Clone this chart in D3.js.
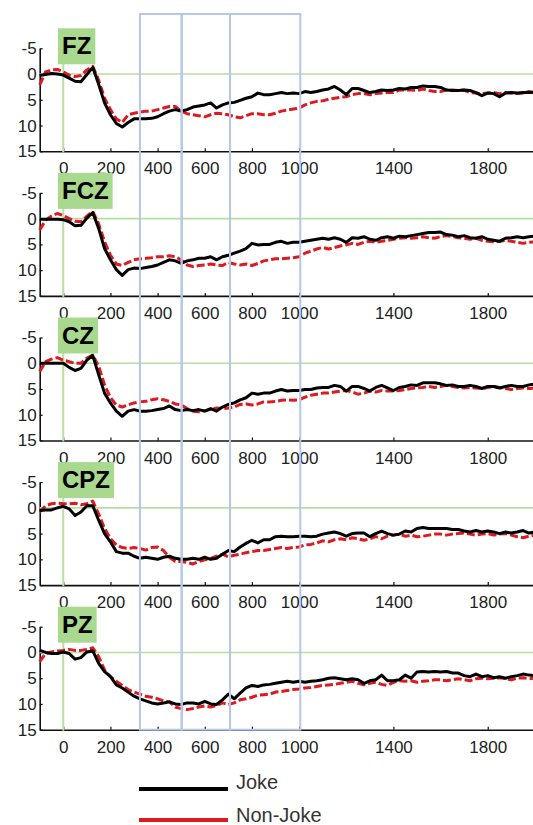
<!DOCTYPE html>
<html>
<head>
<meta charset="utf-8">
<script src="https://cdn.jsdelivr.net/npm/d3@7"></script>
<style>
  html, body { margin: 0; padding: 0; background: #fff; }
  svg { display: block; font-family: "Liberation Sans", Arial, sans-serif; }
</style>
</head>
<body>
<div id="chart"></div>
<script>
// ERP grand averages, µV, sampled every 25 ms from -100 to 2000 ms (negative up)
const times = d3.range(-100, 2001, 25);

const channels = ['FZ', 'FCZ', 'CZ', 'CPZ', 'PZ'];

const jokeFZ = [
  0.3, 0.1, -0.1, 0, 0.2, 0.8, 1.4, 1.5, 0.1, -1.3,
  2.0, 5.6, 7.9, 9.6, 10.3, 9.4, 8.7, 8.7, 8.7, 8.6,
  8.3, 7.7, 7.2, 6.9, 7.2, 6.9, 6.4, 6.2, 6.0, 5.6,
  6.6, 6.0, 5.6, 5.5, 5.1, 4.7, 4.4, 3.7, 4.0, 4.0,
  3.8, 3.6, 3.8, 3.7, 3.8, 3.4, 3.6, 3.4, 3.1, 2.9,
  2.4, 3.1, 4.0, 2.8, 2.8, 3.2, 3.6, 3.4, 3.1, 3.2,
  3.1, 2.8, 2.9, 2.6, 2.6, 2.3, 2.4, 2.4, 2.6, 3.1,
  3.2, 3.2, 3.1, 3.2, 3.6, 4.2, 3.7, 3.8, 4.4, 3.7,
  3.6, 3.7, 3.6, 3.6, 3.5
];
const nonJokeFZ = [
  2.1, -0.4, -0.8, -0.9, -0.4, 0.2, 0.5, 0.3, -0.8, -1.5,
  1.2, 4.7, 6.9, 8.7, 9.4, 7.9, 7.6, 7.4, 7.2, 7.2,
  6.9, 6.6, 6.3, 6.3, 7.2, 7.7, 7.9, 8.1, 8.3, 7.9,
  7.6, 7.7, 7.9, 8.3, 8.5, 8.1, 7.7, 7.7, 7.9, 7.9,
  7.6, 7.2, 7.0, 6.8, 6.6, 6.0, 5.6, 5.3, 5.2, 4.9,
  4.7, 4.5, 4.4, 4.0, 3.8, 3.8, 4.0, 3.8, 3.7, 3.6,
  3.6, 3.1, 3.1, 3.1, 3.2, 2.9, 3.2, 3.4, 3.4, 3.1,
  3.1, 3.2, 3.1, 3.6, 3.7, 3.8, 3.7, 3.6, 3.8, 3.6,
  3.7, 3.8, 3.7, 3.4, 3.7
];

const jokeFCZ = [
  0.1, 0.1, 0.1, 0.1, 0.2, 0.6, 1.4, 1.3, -0.1, -1.2,
  1.9, 5.8, 8.0, 9.9, 11.0, 9.9, 9.6, 9.7, 9.5, 9.3,
  9.0, 8.5, 8.0, 8.2, 8.7, 8.2, 8.0, 7.7, 7.7, 7.4,
  8.0, 7.4, 7.1, 6.7, 6.3, 5.8, 4.8, 5.1, 5.0, 5.0,
  4.6, 4.4, 4.8, 4.6, 4.6, 4.4, 4.2, 4.0, 3.8, 4.0,
  3.7, 4.0, 4.6, 3.7, 3.8, 3.5, 4.0, 4.2, 3.7, 3.5,
  3.8, 3.4, 3.5, 3.3, 3.1, 2.9, 2.7, 2.7, 2.6, 3.1,
  3.2, 3.5, 3.3, 3.7, 3.8, 3.5, 4.0, 4.2, 4.4, 3.8,
  3.7, 3.5, 3.7, 3.5, 3.4
];
const nonJokeFCZ = [
  2.2, 0.3, -0.5, -1.0, -0.6, 0, 0.5, 0.6, -0.5, -1.4,
  1.0, 4.5, 7.1, 8.8, 9.1, 8.5, 8.0, 7.8, 7.7, 7.6,
  7.4, 7.4, 7.2, 7.4, 8.0, 9.0, 9.3, 9.1, 9.0, 8.8,
  9.0, 9.1, 8.5, 8.8, 9.0, 8.8, 9.1, 8.7, 8.2, 8.0,
  7.8, 7.8, 7.7, 7.6, 7.4, 6.7, 6.3, 5.9, 5.6, 5.9,
  5.6, 5.3, 5.1, 4.8, 5.0, 4.6, 4.4, 4.6, 4.4, 4.2,
  4.0, 3.8, 3.7, 3.8, 3.7, 3.5, 3.7, 3.8, 3.5, 3.3,
  3.5, 3.7, 3.8, 4.0, 3.8, 4.2, 4.4, 4.5, 4.4, 4.2,
  4.4, 4.6, 4.8, 4.6, 4.5
];

const jokeCZ = [
  0, 0, 0, 0, 0, 0.8, 1.4, 1.0, -0.6, -1.5,
  2.2, 5.8, 7.7, 9.3, 10.3, 9.3, 9.0, 9.3, 9.3, 9.2,
  9.0, 8.8, 8.3, 9.0, 9.2, 9.0, 9.2, 9.0, 9.3, 8.8,
  9.3, 8.5, 8.0, 7.7, 7.1, 6.7, 5.8, 6.0, 5.8, 5.8,
  5.4, 5.1, 5.4, 5.3, 5.3, 5.1, 5.1, 4.8, 4.7, 4.7,
  4.3, 4.5, 5.4, 4.5, 4.5, 4.9, 5.4, 4.7, 4.3, 4.8,
  5.3, 4.7, 4.5, 4.2, 4.3, 3.8, 3.8, 3.8, 4.0, 4.3,
  4.2, 4.5, 4.5, 4.3, 4.5, 4.9, 4.5, 4.5, 4.8, 4.5,
  4.3, 4.5, 4.5, 4.2, 4.0
];
const nonJokeCZ = [
  1.6, -0.3, -0.8, -1.1, -0.6, -0.3, 0, 0, -1.0, -1.6,
  0.6, 4.2, 6.7, 8.1, 8.5, 8.1, 7.7, 7.5, 7.4, 7.1,
  6.9, 7.1, 7.4, 7.9, 8.1, 8.8, 9.3, 9.4, 9.2, 9.0,
  8.7, 8.8, 8.7, 8.5, 8.0, 7.9, 8.1, 7.9, 7.5, 7.5,
  7.4, 7.2, 7.1, 7.2, 7.1, 6.6, 6.2, 6.0, 5.8, 5.8,
  5.6, 5.4, 5.3, 5.6, 6.0, 5.8, 5.4, 5.6, 5.3, 5.4,
  5.4, 5.3, 5.1, 4.9, 4.8, 4.7, 4.5, 4.7, 4.5, 4.3,
  4.5, 4.7, 4.8, 4.7, 4.8, 4.9, 4.7, 4.5, 4.7, 4.9,
  5.1, 4.9, 4.8, 4.9, 4.8
];

const jokeCPZ = [
  0.5, 0.4, 0.4, 0, -0.3, 0.2, 1.5, 0.8, -0.4, -0.4,
  2.4, 5.0, 6.6, 8.5, 8.8, 8.8, 9.4, 9.8, 9.6, 9.8,
  10.0, 9.6, 9.4, 9.8, 10.0, 10.0, 9.8, 10.0, 9.6, 10.0,
  9.8, 9.0, 8.3, 8.5, 7.6, 6.9, 6.3, 6.8, 6.2, 6.2,
  5.6, 5.5, 5.6, 5.6, 5.5, 5.5, 5.6, 5.5, 5.1, 4.9,
  4.7, 5.0, 5.5, 5.0, 4.9, 4.9, 5.6, 5.0, 4.5, 5.0,
  5.3, 5.1, 4.5, 4.7, 4.0, 3.8, 4.0, 4.0, 4.0, 4.0,
  4.2, 4.2, 4.5, 4.7, 4.4, 4.7, 4.5, 4.7, 5.0, 4.7,
  4.9, 4.7, 4.4, 4.9, 4.7
];
const nonJokeCPZ = [
  0.8, -0.4, -0.8, -0.9, -0.8, -0.8, -0.9, -0.6, -0.8, -1.3,
  1.2, 4.0, 6.0, 7.2, 7.7, 7.9, 7.7, 7.9, 8.2, 7.7,
  7.6, 8.3, 9.6, 10.4, 10.4, 10.6, 10.9, 10.4, 10.1, 9.8,
  9.4, 9.0, 9.5, 9.2, 9.0, 8.7, 8.5, 8.3, 8.3, 8.1,
  7.9, 7.7, 7.9, 7.7, 7.6, 7.2, 7.1, 6.8, 6.4, 6.6,
  6.2, 6.0, 6.2, 5.8, 6.0, 6.3, 6.0, 5.6, 6.0, 5.5,
  5.3, 5.1, 5.5, 5.3, 5.6, 5.5, 5.3, 5.1, 5.1, 5.3,
  5.1, 5.0, 4.9, 5.1, 5.3, 5.1, 5.0, 5.3, 5.1, 5.0,
  5.3, 5.6, 5.8, 5.5, 5.3
];

const jokePZ = [
  -0.4, 0, 0.2, 0.2, -0.1, 0.2, 1.3, 1.0, -0.1, -0.3,
  2.1, 3.7, 4.7, 6.3, 6.9, 7.7, 8.5, 9.0, 9.4, 9.8,
  10.0, 9.8, 9.6, 10.0, 10.1, 9.8, 9.8, 10.0, 9.5, 10.0,
  10.1, 9.2, 8.1, 9.0, 7.9, 6.9, 6.4, 6.6, 6.3, 6.2,
  6.0, 5.8, 5.6, 5.8, 5.6, 5.8, 5.6, 5.5, 5.3, 5.0,
  4.9, 5.1, 5.3, 5.1, 5.3, 6.0, 5.5, 5.3, 4.4, 5.5,
  5.5, 5.3, 4.4, 5.0, 3.8, 3.7, 3.8, 3.7, 3.8, 3.7,
  4.0, 4.0, 4.5, 4.7, 4.2, 4.7, 4.5, 4.9, 4.7, 5.0,
  4.7, 4.5, 4.2, 4.4, 4.5
];
const nonJokePZ = [
  1.8, 0.2, -0.1, -0.3, -0.4, -0.6, -0.4, -0.4, -0.6, -0.9,
  0.8, 3.4, 4.7, 5.6, 6.4, 7.2, 7.7, 8.1, 8.5, 8.7,
  9.0, 9.4, 9.6, 10.6, 10.9, 11.1, 10.9, 10.6, 10.4, 10.6,
  10.3, 9.8, 10.1, 9.8, 9.2, 9.0, 8.7, 8.3, 8.2, 8.1,
  7.7, 7.6, 7.4, 7.2, 7.1, 6.9, 6.8, 6.6, 6.4, 6.3,
  6.2, 6.0, 5.8, 5.6, 6.0, 6.3, 6.0, 5.8, 6.2, 6.4,
  5.8, 5.5, 5.6, 5.5, 5.8, 5.6, 5.5, 5.3, 5.3, 5.5,
  5.3, 5.1, 5.3, 5.5, 5.1, 5.0, 5.1, 5.0, 4.9, 5.1,
  5.3, 5.0, 4.9, 5.1, 5.0
];

const jokeSeries = [jokeFZ, jokeFCZ, jokeCZ, jokeCPZ, jokePZ];
const nonJokeSeries = [nonJokeFZ, nonJokeFCZ, nonJokeCZ, nonJokeCPZ, nonJokePZ];

const xTicks = [0, 200, 400, 600, 800, 1000, 1400, 1800];
const yTicks = [-5, 0, 5, 10, 15];
// analysis windows (ms) outlined across all channels
const windows = [[325, 502], [502, 707], [707, 1005]];
const legendLabels = ['Joke', 'Non-Joke'];

const WIDTH = 533;
const HEIGHT = 825;
const PANEL_TOP = 48.3;
const PANEL_STEP = 144.6;
const PANEL_H = 103;
const FONT = '"Liberation Sans", Arial, sans-serif';

const COLORS = {
  joke: '#000000',
  nonJoke: '#dc1a1f',
  zero: '#b6dea2',
  label: '#a9d98f',
  window: '#b4c7e8',
  text: '#222222',
};

const svg = d3.select('#chart')
  .append('svg')
  .attr('width', WIDTH)
  .attr('height', HEIGHT);

svg.append('rect')
  .attr('width', WIDTH)
  .attr('height', HEIGHT)
  .attr('fill', '#fff');

const x = d3.scaleLinear().domain([-100, 2000]).range([39.7, 534.9]);

/**
 * Draws one channel panel: zero guides, axes, waveforms and label badge.
 * @param {number} i panel index
 */
function drawPanel(i) {
  const top = PANEL_TOP + i * PANEL_STEP;
  const y = d3.scaleLinear().domain([-5, 15]).range([top, top + PANEL_H]);
  const g = svg.append('g').attr('class', `panel panel-${channels[i]}`);

  const xAxis = d3.axisBottom(x)
    .tickValues(xTicks)
    .tickFormat((d) => String(d))
    .tickSizeInner(-3)
    .tickSizeOuter(0)
    .tickPadding(11);

  const yAxis = d3.axisLeft(y)
    .tickValues(yTicks)
    .tickFormat((d) => String(d))
    .tickSizeInner(-3)
    .tickSizeOuter(0)
    .tickPadding(3);

  const xg = g.append('g')
    .attr('transform', `translate(0,${y(15)})`)
    .call(xAxis);
  const yg = g.append('g')
    .attr('transform', `translate(${x(-100)},0)`)
    .call(yAxis);

  [xg, yg].forEach((axis) => {
    axis.select('.domain').attr('stroke', '#111').attr('stroke-width', 1.6);
    axis.selectAll('.tick line').attr('stroke', '#111').attr('stroke-width', 1.2);
    axis.selectAll('.tick text')
      .attr('fill', COLORS.text)
      .style('font-family', FONT)
      .style('font-size', '17px');
  });

  // zero guides
  g.append('line')
    .attr('x1', x(-100)).attr('x2', x(2000))
    .attr('y1', y(0)).attr('y2', y(0))
    .attr('stroke', COLORS.zero).attr('stroke-width', 1.6);
  g.append('line')
    .attr('x1', x(0)).attr('x2', x(0))
    .attr('y1', y(-5)).attr('y2', y(15) + 1)
    .attr('stroke', COLORS.zero).attr('stroke-width', 2);

  const line = d3.line()
    .x((d, k) => x(times[k]))
    .y((d) => y(d));

  g.append('path')
    .datum(nonJokeSeries[i])
    .attr('d', line)
    .attr('fill', 'none')
    .attr('stroke', COLORS.nonJoke)
    .attr('stroke-width', 3)
    .attr('stroke-dasharray', '8,3')
    .attr('stroke-linejoin', 'round');

  g.append('path')
    .datum(jokeSeries[i])
    .attr('d', line)
    .attr('fill', 'none')
    .attr('stroke', COLORS.joke)
    .attr('stroke-width', 3)
    .attr('stroke-linejoin', 'round');

  // channel badge
  const badge = g.append('g');
  const rect = badge.append('rect')
    .attr('x', 58)
    .attr('y', top - 20)
    .attr('height', 36)
    .attr('fill', COLORS.label);
  const label = badge.append('text')
    .attr('x', 62)
    .attr('y', top + 6)
    .attr('fill', '#000')
    .style('font-family', FONT)
    .style('font-weight', 'bold')
    .style('font-size', '24px')
    .text(channels[i]);
  const w = label.node().getComputedTextLength();
  rect.attr('width', w + 8);

  return y;
}

const panelScales = channels.map((c, i) => drawPanel(i));
const lastY = panelScales[panelScales.length - 1];

// time windows spanning every channel
svg.append('g')
  .attr('class', 'windows')
  .selectAll('rect')
  .data(windows)
  .join('rect')
  .attr('x', (d) => x(d[0]))
  .attr('y', 14)
  .attr('width', (d) => x(d[1]) - x(d[0]))
  .attr('height', lastY(15) - 14)
  .attr('fill', 'none')
  .attr('stroke', COLORS.window)
  .attr('stroke-width', 2);

// legend
const legend = svg.append('g').attr('class', 'legend');
const legendRows = legend.selectAll('g')
  .data(legendLabels)
  .join('g')
  .attr('transform', (d, k) => `translate(0,${789 + k * 31})`);

legendRows.append('line')
  .attr('x1', 139).attr('x2', 228)
  .attr('y1', 0).attr('y2', 0)
  .attr('stroke', (d, k) => (k === 0 ? COLORS.joke : COLORS.nonJoke))
  .attr('stroke-width', 4);

legendRows.append('text')
  .attr('x', 236)
  .attr('y', (d, k) => (k === 0 ? 0 : 2))
  .attr('fill', '#333')
  .style('font-family', FONT)
  .style('font-size', '20px')
  .text((d) => d);
</script>
</body>
</html>
